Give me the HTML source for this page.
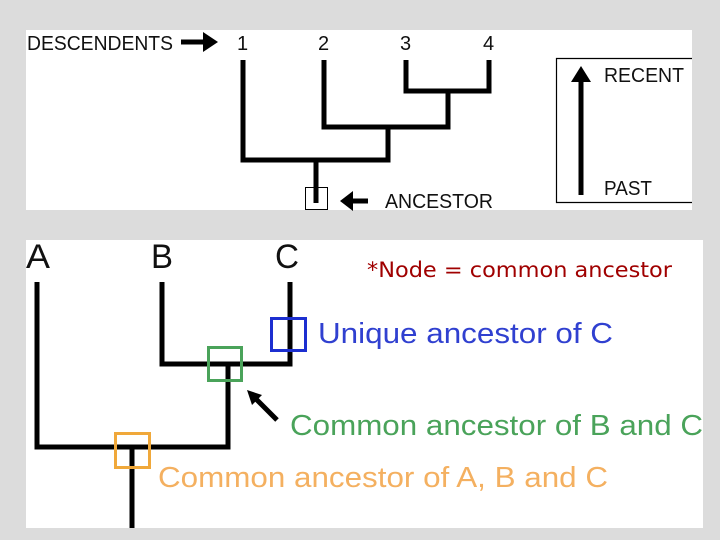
<!DOCTYPE html>
<html><head><style>body{margin:0;background:#dcdcdc}svg{display:block}</style></head><body>
<svg width="720" height="540" xmlns="http://www.w3.org/2000/svg" font-family="Liberation Sans, sans-serif">
<rect width="720" height="540" fill="#dcdcdc"/>
<rect x="26" y="30" width="666" height="180" fill="#fff"/>
<rect x="26" y="240" width="677" height="288" fill="#fff"/>
<g stroke="#000" stroke-width="5" fill="none">
<path d="M243 60V160H388V127M324 60V127H448V91M406 60V91H489V60M316 160V203"/>
<path d="M181 42H203M345 201H368"/>
<path d="M581 195V80"/>
<path d="M37 282V447H228V364M162 282V364H290V282M132 447V528"/>
<path d="M277 420L255 398"/>
</g>
<path d="M203 32L218 42L203 52Z M340 201L353 191V211Z M571 82L581 66L591 82Z M247 390L262 395L252 405Z" fill="#000"/>
<rect x="305.5" y="187.5" width="22" height="22" fill="none" stroke="#000" stroke-width="1"/>
<path d="M692 58.5H556.5V202.5H692" fill="none" stroke="#000" stroke-width="1.2"/>
<g font-size="20" fill="#111">
<text x="27" y="50" textLength="146" lengthAdjust="spacingAndGlyphs">DESCENDENTS</text>
<text x="237" y="50">1</text><text x="318" y="50">2</text><text x="400" y="50">3</text><text x="483" y="50">4</text>
<text x="385" y="208" textLength="108" lengthAdjust="spacingAndGlyphs">ANCESTOR</text>
<text x="604" y="82" textLength="80" lengthAdjust="spacingAndGlyphs">RECENT</text>
<text x="604" y="195" textLength="48" lengthAdjust="spacingAndGlyphs">PAST</text>
</g>
<g font-size="34" fill="#111">
<text x="26" y="268" textLength="24" lengthAdjust="spacingAndGlyphs">A</text><text x="151" y="268" textLength="22" lengthAdjust="spacingAndGlyphs">B</text><text x="275" y="268" textLength="24" lengthAdjust="spacingAndGlyphs">C</text>
</g>
<text x="367" y="277" font-size="21" fill="#a00000" font-family="DejaVu Sans, sans-serif" textLength="305" lengthAdjust="spacingAndGlyphs">*Node = common ancestor</text>
<rect x="271.5" y="318.5" width="34" height="32" fill="none" stroke="#1c2fd0" stroke-width="3"/>
<rect x="208.5" y="347.5" width="33" height="33" fill="none" stroke="#4aa35a" stroke-width="3"/>
<rect x="115.5" y="433.5" width="34" height="34" fill="none" stroke="#f0a83a" stroke-width="3"/>
<text x="318" y="343" font-size="29" fill="#3040d0" textLength="295" lengthAdjust="spacingAndGlyphs">Unique ancestor of C</text>
<text x="290" y="435" font-size="29" fill="#4aa35a" textLength="413" lengthAdjust="spacingAndGlyphs">Common ancestor of B and C</text>
<text x="158" y="487" font-size="29" fill="#f4b060" textLength="450" lengthAdjust="spacingAndGlyphs">Common ancestor of A, B and C</text>
</svg>
</body></html>
